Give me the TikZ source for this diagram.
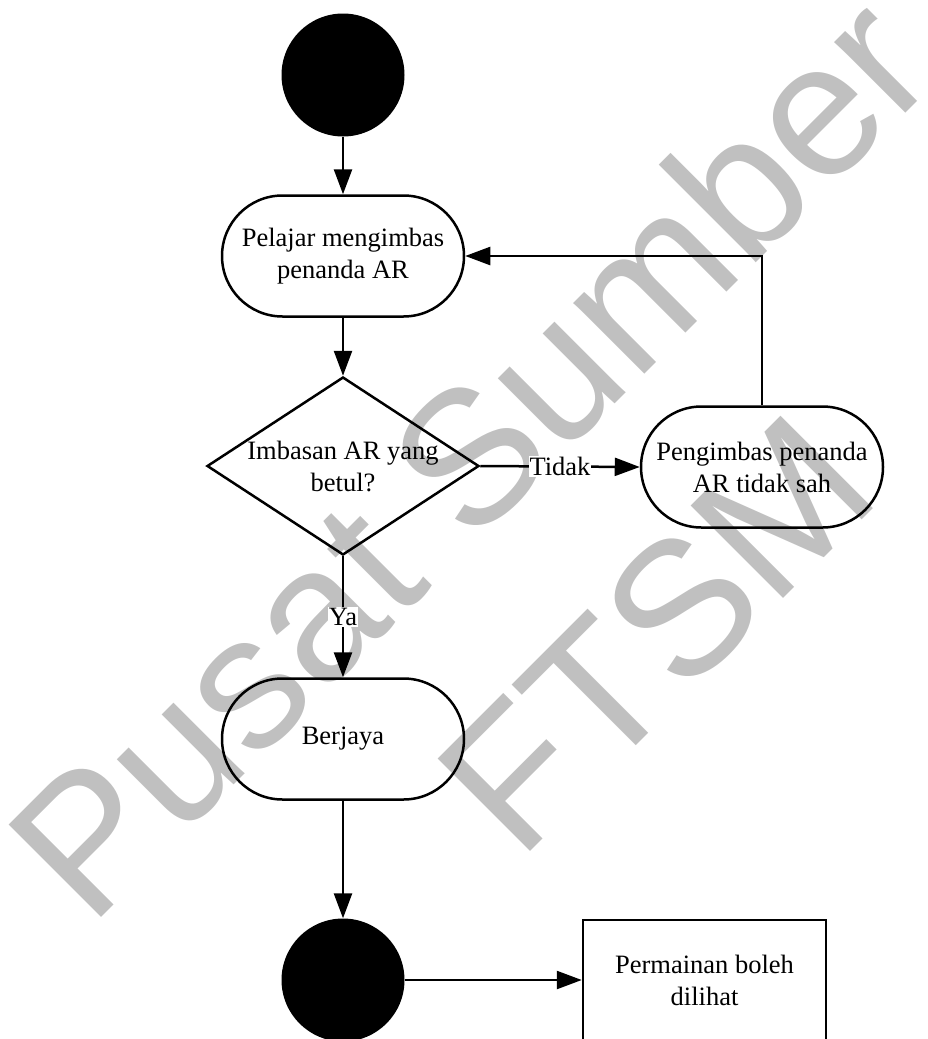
\documentclass[tikz,border=0pt]{standalone}
\usepackage{fontspec}
\setmainfont{Liberation Serif}
\newfontfamily\wmfont{Liberation Sans}
\usetikzlibrary{shapes.geometric,arrows.meta}
\definecolor{wmgray}{RGB}{192,192,192}
\begin{document}
\begin{tikzpicture}[x=1pt,y=1pt,
  every node/.style={font=\fontsize{26.5}{32}\selectfont},
  flow/.style={line width=2.5pt,-{Triangle[length=25pt,width=18pt]}},
  initial/.style={circle,fill=black,minimum size=123pt,inner sep=0pt},
  activity/.style={rectangle,rounded corners=60.5pt,draw,line width=2.5pt,
    minimum width=242pt,minimum height=121pt,align=center,inner sep=0pt},
  decision/.style={diamond,draw,line width=2.5pt,minimum width=272pt,
    minimum height=178pt,inner sep=0pt},
  note/.style={rectangle,draw,line width=2.5pt,minimum width=243pt,
    minimum height=121pt,align=center,inner sep=0pt},
  guard/.style={fill=white,inner sep=1pt},
  watermark/.style={text=wmgray,font=\wmfont\fontsize{190}{190}\selectfont,
    rotate=45,anchor=base,inner sep=0pt}
]
\useasboundingbox (0,0) rectangle (928,-1039);
\clip (0,0) rectangle (928,-1039);

% library stamp behind the diagram
\node[watermark] (wm1) at (516,-503) {Pusat Sumber};
\node[watermark] (wm2) at (702,-680) {FTSM};

% activity flow
\node[initial] (start) at (343,-75) {};
\node[activity] (scan) at (343,-256) {Pelajar mengimbas\\penanda AR};
\node[decision] (check) at (343,-466) {};
\node[align=center] (checktext) at (check) {Imbasan AR yang\\betul?};
\node[activity] (invalid) at (762,-467) {Pengimbas penanda\\AR tidak sah};
\node[activity] (success) at (343,-739) {Berjaya};
\node[initial] (finish) at (343,-980) {};
\node[note] (result) at (704.5,-980.5) {Permainan boleh\\dilihat};

\draw[flow] (start) -- (scan);
\draw[flow] (scan) -- (check);
\draw[flow] (check.east) -- node[guard] (no) {Tidak} (invalid.west);
\draw[flow] (invalid.north) |- (scan.east);
\draw[flow] (check.south) -- node[guard] (yes) {Ya} (success.north);
\draw[flow] (success) -- (finish);
\draw[flow] (finish) -- (result.west |- finish);
\end{tikzpicture}
\end{document}
